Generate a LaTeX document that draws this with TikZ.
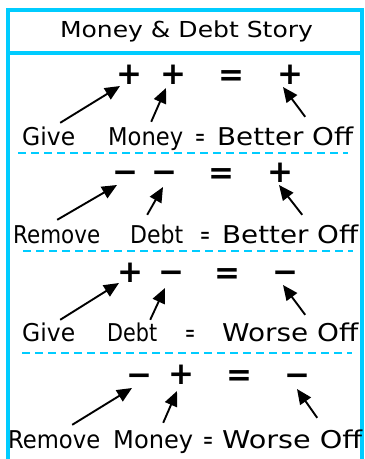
\documentclass[tikz,border=0pt]{standalone}
\usepackage{fontspec}
\usepackage{graphicx}
\setmainfont{DejaVu Sans}
\usetikzlibrary{arrows.meta}
\definecolor{cyanb}{RGB}{0,204,255}
\newsavebox\fitbox
\newcommand\fitw[2]{\sbox\fitbox{#2}\scalebox{\fpeval{(#1)/(\the\wd\fitbox)}}[1]{\usebox\fitbox}}
\newcommand\wordfont{\fontsize{24.5}{28}\selectfont}
\newcommand\titlefont{\fontsize{22}{26}\selectfont}
\newcommand\symfont{\fontsize{31}{35}\selectfont\bfseries}
\tikzset{
  frame/.style={draw=cyanb, line width=4pt},
  sepline/.style={draw=cyanb, line width=2.2pt, dash pattern=on 8pt off 5pt},
  word/.style={anchor=base west, inner sep=0pt, font=\wordfont, text height=18pt, text depth=5pt},
  sym/.style={inner sep=0pt, font=\symfont, text height=21.5pt, text depth=0pt},
  arr/.style={line width=1.9pt, -{Triangle[length=15pt,width=13pt]}},
}
\begin{document}
\begin{tikzpicture}[x=1pt,y=-1pt]
\useasboundingbox (0,0) rectangle (365,459);
% frame
\draw[frame] (8,459) -- (8,9.5) -- (362,9.5) -- (362,459);
\draw[frame] (8,53) -- (362,53);
\node[anchor=base, inner sep=0pt, font=\titlefont] (title) at (186.5,37.5) {\fitw{253pt}{Money \& Debt Story}};
% separators
\draw[sepline] (18,153) -- (348,153);
\draw[sepline] (23,251) -- (353,251);
\draw[sepline] (22,353) -- (352,353);
% row 1
\node[sym] (s11) at (129,74) {+};
\node[sym] (s12) at (173,74) {+};
\node[sym] (s13) at (231,75) {=};
\node[sym] (s14) at (290,74) {+};
\node[word] (w11) at (22,145) {\fitw{53pt}{Give}};
\node[word] (w12) at (108,145) {\fitw{75pt}{Money}};
\node[word] (w13) at (195,145) {\fitw{10pt}{=}};
\node[word] (w14) at (217,145) {\fitw{136pt}{Better Off}};
\draw[arr] ([xshift=11.5pt,yshift=4pt]w11.north) -- ([xshift=-9pt,yshift=-12pt]s11.center);
\draw[arr] ([xshift=5.5pt,yshift=5pt]w12.north) -- ([xshift=-7pt,yshift=-14pt]s12.center);
\draw[arr] ([xshift=20pt,yshift=10pt]w14.north) -- ([xshift=-7pt,yshift=-13pt]s14.center);
% row 2
\node[sym] (s21) at (125,172) {−};
\node[sym] (s22) at (164,172) {−};
\node[sym] (s23) at (221,173) {=};
\node[sym] (s24) at (280,172) {+};
\node[word] (w21) at (13,243) {\fitw{87pt}{Remove}};
\node[word] (w22) at (130,243) {\fitw{53pt}{Debt}};
\node[word] (w23) at (200,243) {\fitw{10pt}{=}};
\node[word] (w24) at (222,243) {\fitw{136pt}{Better Off}};
\draw[arr] ([xshift=0.5pt,yshift=5pt]w21.north) -- ([xshift=-8pt,yshift=-13pt]s21.center);
\draw[arr] ([xshift=-9.5pt,yshift=10pt]w22.north) -- ([xshift=-1pt,yshift=-15pt]s22.center);
\draw[arr] ([xshift=12pt,yshift=10pt]w24.north) -- ([xshift=-1pt,yshift=-13pt]s24.center);
% row 3
\node[sym] (s31) at (130,272) {+};
\node[sym] (s32) at (171,272) {−};
\node[sym] (s33) at (227,273) {=};
\node[sym] (s34) at (285,272) {−};
\node[word] (w31) at (22,341) {\fitw{53pt}{Give}};
\node[word] (w32) at (107,341) {\fitw{50pt}{Debt}};
\node[word] (w33) at (185,341) {\fitw{10pt}{=}};
\node[word] (w34) at (222,341) {\fitw{136pt}{Worse Off}};
\draw[arr] ([xshift=11.5pt,yshift=3pt]w31.north) -- ([xshift=-11pt,yshift=-11pt]s31.center);
\draw[arr] ([xshift=18pt,yshift=3pt]w32.north) -- ([xshift=-6pt,yshift=-16pt]s32.center);
\draw[arr] ([xshift=15pt,yshift=8pt]w34.north) -- ([xshift=-2pt,yshift=-13pt]s34.center);
% row 4
\node[sym] (s41) at (139,375) {−};
\node[sym] (s42) at (181,374) {+};
\node[sym] (s43) at (239,375) {=};
\node[sym] (s44) at (297,375) {−};
\node[word] (w41) at (8,448) {\fitw{92pt}{Remove}};
\node[word] (w42) at (113,448) {\fitw{80pt}{Money}};
\node[word] (w43) at (203,448) {\fitw{10pt}{=}};
\node[word] (w44) at (222,448) {\fitw{140pt}{Worse Off}};
\draw[arr] ([xshift=18pt,yshift=5pt]w41.north) -- ([xshift=-7pt,yshift=-13pt]s41.center);
\draw[arr] ([xshift=10pt,yshift=7pt]w42.north) -- ([xshift=-4pt,yshift=-17pt]s42.center);
\draw[arr] ([xshift=25pt,yshift=12pt]w44.north) -- ([xshift=0pt,yshift=-14pt]s44.center);
\end{tikzpicture}
\end{document}
